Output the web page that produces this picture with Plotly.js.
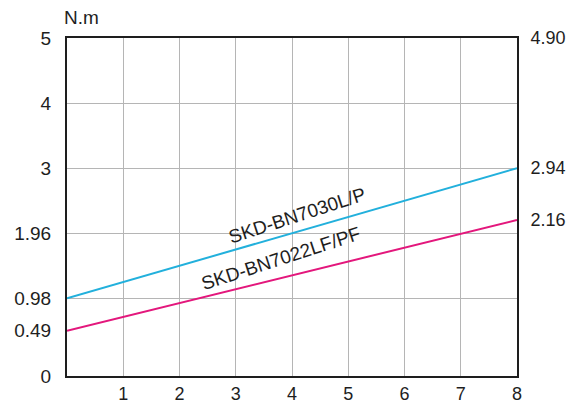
<!DOCTYPE html>
<html>
<head>
<meta charset="utf-8">
<script src="https://cdn.plot.ly/plotly-3.0.1.min.js"></script>
<style>html,body{margin:0;padding:0;background:#fff;}#chart{width:576px;height:405px;}</style>
</head>
<body>
<div id="chart"></div>
<script>
// Data
const speed = [0, 8];
const torque7030 = [0.98, 2.94];
const torque7022 = [0.49, 2.16];
const seriesNames = ["SKD-BN7030L/P", "SKD-BN7022LF/PF"];
const xTicks = [1, 2, 3, 4, 5, 6, 7, 8];
const yRange = [-0.19, 4.90];
const leftTickVals = [-0.19, 0.49, 0.98, 1.96, 2.94, 3.92, 4.90];
const leftTickText = ["0", "0.49", "0.98", "1.96", "3", "4", "5"];
const gridVals = [0.98, 1.96, 2.94, 3.92];
const rightTickVals = [2.16, 2.94, 4.90];
const rightTickText = ["2.16", "2.94", "4.90"];
const unitLabel = "N.m";

const font = "Liberation Sans";
const dark = "#1e1e1e";

const traces = [
  {x: speed, y: torque7030, mode: "lines", line: {color: "#22b0dc", width: 2}, name: seriesNames[0], hoverinfo: "skip"},
  {x: speed, y: torque7022, yaxis: "y2", mode: "lines", line: {color: "#e3177c", width: 2}, name: seriesNames[1], hoverinfo: "skip"}
];

const layout = {
  width: 576, height: 405,
  margin: {l: 67, r: 59, t: 38, b: 29},
  paper_bgcolor: "#fff", plot_bgcolor: "#fff",
  showlegend: false,
  font: {family: font, color: dark, size: 18},
  xaxis: {
    range: [0, 8], tickmode: "array", tickvals: xTicks, ticktext: xTicks.map(String),
    showgrid: true, gridcolor: "#b5b5b5", gridwidth: 1,
    showline: true, linecolor: dark, linewidth: 2, mirror: true,
    ticks: "", ticklabelstandoff: 0, zeroline: false,
    tickfont: {size: 18, color: dark, family: font}
  },
  yaxis: {
    range: yRange, tickmode: "array", tickvals: leftTickVals, ticktext: leftTickText,
    showgrid: false,
    minor: {tickmode: "array", tickvals: gridVals, showgrid: true, gridcolor: "#b5b5b5", gridwidth: 1, ticks: ""},
    showline: true, linecolor: dark, linewidth: 2, mirror: true,
    ticks: "", ticklabelstandoff: 10, zeroline: false,
    tickfont: {size: 19, color: dark, family: font}
  },
  yaxis2: {
    overlaying: "y", side: "right", range: yRange,
    tickmode: "array", tickvals: rightTickVals, ticktext: rightTickText,
    showgrid: false, showline: true, linecolor: dark, linewidth: 2,
    ticks: "", ticklabelstandoff: 8, zeroline: false,
    tickfont: {size: 18, color: dark, family: font}
  },
  annotations: [
    {xref: "paper", yref: "paper", x: 0, y: 1, xanchor: "left", yanchor: "middle", xshift: -5, yshift: 21,
     text: unitLabel, showarrow: false, font: {size: 19, color: dark, family: font}},
    {xref: "x", yref: "y", x: 4.09, y: 2.22, text: seriesNames[0], showarrow: false, textangle: -18,
     font: {size: 19, color: dark, family: font}},
    {xref: "x", yref: "y", x: 3.80, y: 1.58, text: seriesNames[1], showarrow: false, textangle: -18,
     font: {size: 19, color: dark, family: font}}
  ]
};

Plotly.newPlot("chart", traces, layout, {staticPlot: true, displayModeBar: false});
</script>
</body>
</html>
